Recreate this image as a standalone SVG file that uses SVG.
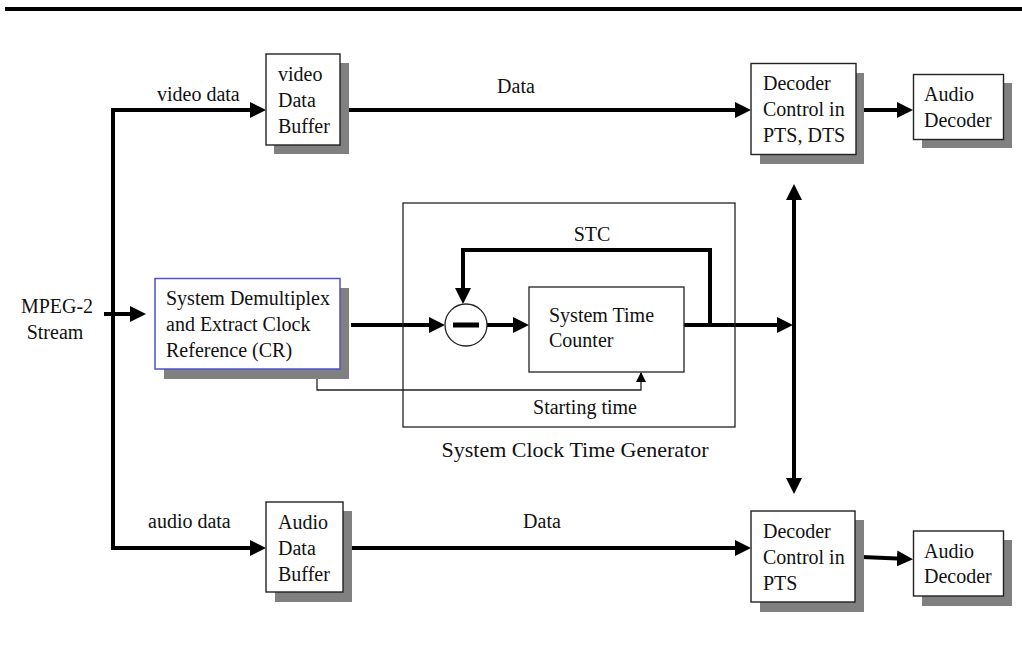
<svg xmlns="http://www.w3.org/2000/svg" width="1022" height="657" viewBox="0 0 1022 657">
<style>
text{font-family:"Liberation Serif","Times New Roman",serif;font-size:20px;fill:#111}
.box{fill:#fff;stroke:#222;stroke-width:1.4}
.sh{fill:#808080}
.thick{fill:none;stroke:#000;stroke-width:4;stroke-linejoin:miter}
.thin{fill:none;stroke:#222;stroke-width:1.3}
.mid{text-anchor:middle}
</style>
<defs>
<marker id="ah" markerUnits="userSpaceOnUse" markerWidth="16" markerHeight="16" refX="12" refY="8" orient="auto-start-reverse">
<path d="M0,0 L16,8 L0,16 z" fill="#000"/>
</marker>
<marker id="ahs" markerUnits="userSpaceOnUse" markerWidth="10" markerHeight="10" refX="9" refY="5" orient="auto">
<path d="M0,0 L10,5 L0,10 z" fill="#000"/>
</marker>
</defs>
<rect x="5" y="7" width="1017" height="4" fill="#000"/>

<g id="connectors">
<path class="thick" d="M113,329 V110 H262" marker-end="url(#ah)"/>
<path class="thick" d="M113,329 V548 H262" marker-end="url(#ah)"/>
<path class="thick" d="M104,314 H142" marker-end="url(#ah)"/>
<path class="thick" d="M343,110 H747" marker-end="url(#ah)"/>
<path class="thick" d="M343,548 H747" marker-end="url(#ah)"/>
<path class="thick" d="M862,110 H909" marker-end="url(#ah)"/>
<path class="thick" d="M862,557 L909,559" marker-end="url(#ah)"/>
<path class="thick" d="M351,325 H441" marker-end="url(#ah)"/>
<path class="thick" d="M487,325 H525" marker-end="url(#ah)"/>
<path class="thick" d="M684,325 H789" marker-end="url(#ah)"/>
<path class="thick" d="M710,325 V250 H463 V300" marker-end="url(#ah)"/>
<path class="thick" d="M794,188 V490" marker-start="url(#ah)" marker-end="url(#ah)"/>
<path class="thin" d="M317,369 V390 H641 V373" marker-end="url(#ahs)"/>
</g>

<g id="generator">
<rect class="thin" x="403" y="203" width="332" height="224"/>
<text class="mid" x="575" y="457" style="font-size:22px">System Clock Time Generator</text>
<text class="mid" x="592" y="241">STC</text>
<text class="mid" x="585" y="414">Starting time</text>
</g>

<g id="subtractor">
<circle cx="466" cy="325" r="21" fill="#fff" stroke="#222" stroke-width="1.3"/>
<rect x="453" y="322.5" width="26" height="5" fill="#000"/>
</g>

<g id="stc-counter">
<rect class="thin" x="529" y="287" width="155" height="85" fill="#fff"/>
<text x="549" y="322">System Time</text>
<text x="549" y="347">Counter</text>
</g>

<g id="mpeg-label">
<text class="mid" x="57" y="313">MPEG-2</text>
<text class="mid" x="55" y="339">Stream</text>
</g>

<g id="video-data-label"><text x="157" y="101">video data</text></g>
<g id="audio-data-label"><text x="148" y="528">audio data</text></g>
<g id="data-top-label"><text class="mid" x="516" y="93">Data</text></g>
<g id="data-bottom-label"><text class="mid" x="542" y="528">Data</text></g>

<g id="video-buffer">
<rect class="sh" x="274" y="63" width="75" height="91"/>
<rect class="box" x="266" y="54" width="74" height="91"/>
<text x="278" y="81">video</text>
<text x="278" y="107">Data</text>
<text x="278" y="133">Buffer</text>
</g>

<g id="audio-buffer">
<rect class="sh" x="275" y="511" width="77" height="91"/>
<rect class="box" x="266" y="502" width="77" height="90"/>
<text x="278" y="529">Audio</text>
<text x="278" y="555">Data</text>
<text x="278" y="581">Buffer</text>
</g>

<g id="demux">
<rect class="sh" x="164" y="288" width="185" height="91"/>
<rect x="155" y="278.5" width="185" height="90.5" fill="#fff" stroke="#5050d0" stroke-width="1.5"/>
<text x="166" y="305">System Demultiplex</text>
<text x="166" y="331">and Extract Clock</text>
<text x="166" y="357">Reference (CR)</text>
</g>

<g id="decoder-control-top">
<rect class="sh" x="760" y="73" width="104" height="91"/>
<rect class="box" x="751" y="63.5" width="105" height="91"/>
<text x="763" y="90">Decoder</text>
<text x="763" y="116">Control in</text>
<text x="763" y="142">PTS, DTS</text>
</g>

<g id="audio-decoder-top">
<rect class="sh" x="922" y="83" width="90" height="65"/>
<rect class="box" x="913.5" y="74.5" width="90" height="65"/>
<text x="924" y="101">Audio</text>
<text x="924" y="127">Decoder</text>
</g>

<g id="decoder-control-bottom">
<rect class="sh" x="760" y="520" width="104" height="92"/>
<rect class="box" x="751" y="511" width="104" height="91"/>
<text x="763" y="538">Decoder</text>
<text x="763" y="564">Control in</text>
<text x="763" y="590">PTS</text>
</g>

<g id="audio-decoder-bottom">
<rect class="sh" x="922" y="540" width="90" height="66"/>
<rect class="box" x="913.5" y="531" width="90" height="65"/>
<text x="924" y="558">Audio</text>
<text x="924" y="583">Decoder</text>
</g>
</svg>
